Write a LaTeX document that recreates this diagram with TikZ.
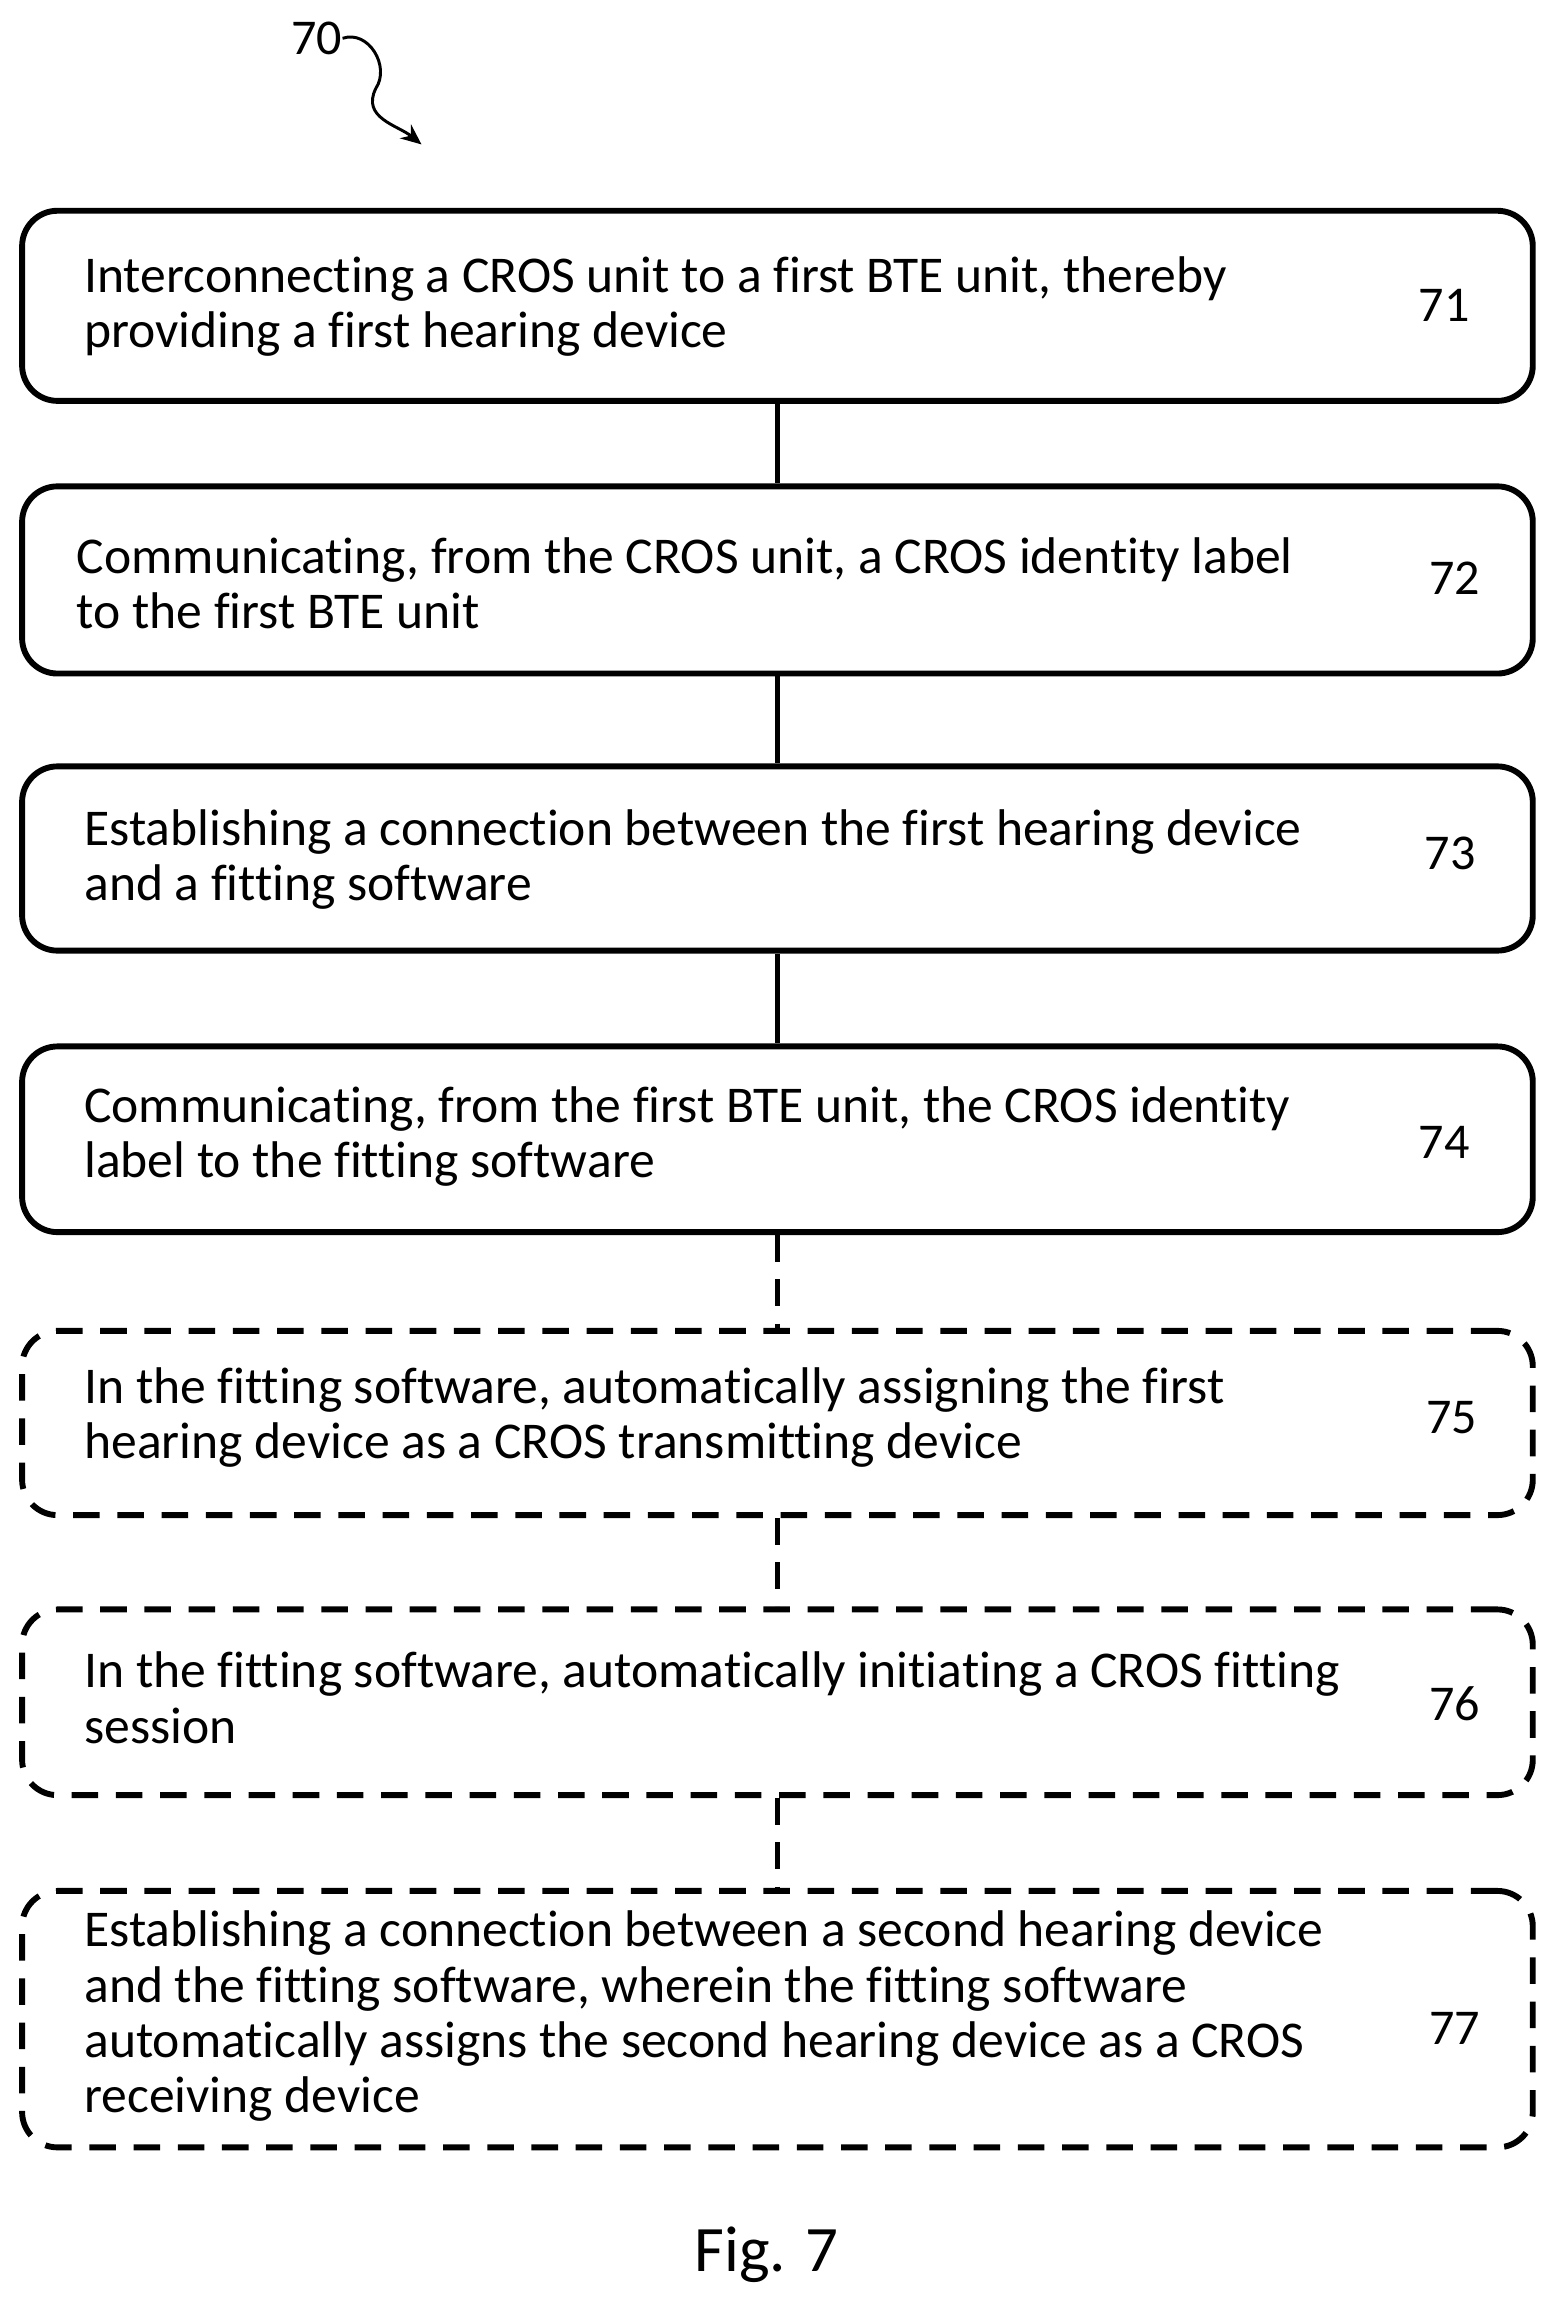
\documentclass[tikz,border=0pt]{standalone}
\usepackage{fontspec}
\setmainfont{Carlito}[RawFeature={-liga}]
\usetikzlibrary{arrows.meta}
\begin{document}
\begin{tikzpicture}[x=1pt,y=-1pt,
 box/.style={draw,line width=4pt,rounded corners=24pt},
 dbox/.style={box,dash pattern=on 18pt off 12pt},
 txt/.style={anchor=west,align=left,font=\fontsize{35}{37.5}\selectfont,inner sep=0pt},
 num/.style={font=\fontsize{34}{36}\selectfont,inner sep=0pt},
 conn/.style={line width=4pt},
 dconn/.style={conn,dash pattern=on 18pt off 12pt}]
\useasboundingbox (0,0) rectangle (1055,1566);
\node[num] (l70) at (215,26) {70};
\coordinate (a70) at (286,98);
\draw[line width=2pt,-{Stealth[length=14pt,width=12pt]}] (l70.east) .. controls (250,20) and (265,45) .. (255,60) .. controls (245,80) and (270,85) .. (a70);
\node[box,minimum width=1025pt,minimum height=129pt] (n71) at (527.5,207.5) {};
\node[txt] (t71) at (57,208) {Interconnecting a CROS unit to a first BTE unit, thereby\\providing a first hearing device};
\node[num] (m71) at (980,207) {71};
\node[box,minimum width=1025pt,minimum height=127pt] (n72) at (527.5,393.5) {};
\node[txt] (t72) at (52,396) {Communicating, from the CROS unit, a CROS identity label\\to the first BTE unit};
\node[num] (m72) at (987,392) {72};
\node[box,minimum width=1025pt,minimum height=125pt] (n73) at (527.5,582.5) {};
\node[txt] (t73) at (57,583) {Establishing a connection between the first hearing device\\and a fitting software};
\node[num] (m73) at (984,579) {73};
\node[box,minimum width=1025pt,minimum height=126pt] (n74) at (527.5,773) {};
\node[txt] (t74) at (57,771) {Communicating, from the first BTE unit, the CROS identity\\label to the fitting software};
\node[num] (m74) at (980,775) {74};
\node[dbox,minimum width=1025pt,minimum height=125pt] (n75) at (527.5,965.5) {};
\node[txt] (t75) at (57,962) {In the fitting software, automatically assigning the first\\hearing device as a CROS transmitting device};
\node[num] (m75) at (985,962) {75};
\node[dbox,minimum width=1025pt,minimum height=126pt] (n76) at (527.5,1155) {};
\node[txt] (t76) at (57,1152) {In the fitting software, automatically initiating a CROS fitting\\session};
\node[num] (m76) at (987,1156) {76};
\node[dbox,minimum width=1025pt,minimum height=174pt] (n77) at (527.5,1370) {};
\node[txt] (t77) at (57,1368) {Establishing a connection between a second hearing device\\and the fitting software, wherein the fitting software\\automatically assigns the second hearing device as a CROS\\receiving device};
\node[num] (m77) at (987,1376) {77};
\draw[conn] (n71.south) -- (n72.north);
\draw[conn] (n72.south) -- (n73.north);
\draw[conn] (n73.south) -- (n74.north);
\draw[dconn] (n74.south) -- (n75.north);
\draw[dconn] (n75.south) -- (n76.north);
\draw[dconn] (n76.south) -- (n77.north);
\node[font=\fontsize{44}{48}\selectfont] (fig) at (520,1530) {Fig. 7};
\end{tikzpicture}
\end{document}
